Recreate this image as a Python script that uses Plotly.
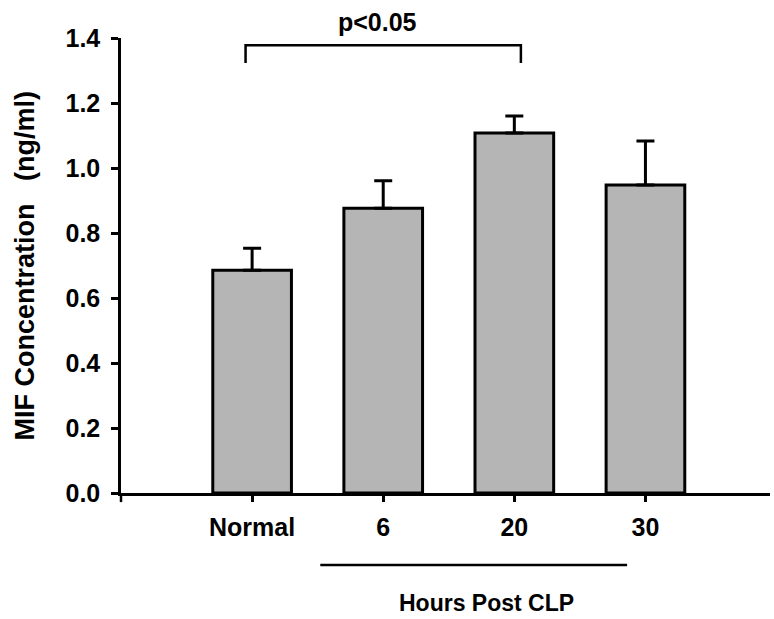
import plotly.graph_objects as go

categories = ["Normal", "6", "20", "30"]
means = [0.685, 0.876, 1.108, 0.948]
sem_plus = [0.068, 0.085, 0.052, 0.135]
y_ticks = [0.0, 0.2, 0.4, 0.6, 0.8, 1.0, 1.2, 1.4]
y_ticktext = ["0.0", "0.2", "0.4", "0.6", "0.8", "1.0", "1.2", "1.4"]
sig_pair = (0, 2)
sig_label = "p<0.05"
group_label = "Hours Post CLP"

xpos = list(range(len(categories)))
FONT = "Liberation Sans, Arial, sans-serif"
YMAX = 1.4

fig = go.Figure()
fig.add_trace(go.Bar(
    x=xpos, y=means, width=0.6,
    marker=dict(color="#b5b5b5", line=dict(color="black", width=3)),
    error_y=dict(type="data", array=sem_plus, arrayminus=[0]*len(means),
                 symmetric=False, color="black", thickness=3, width=9),
    showlegend=False,
))

# significance bracket
x0, x1 = sig_pair[0] - 0.05, sig_pair[1] + 0.05
fig.add_shape(type="path",
              path=f"M {x0},1.323 L {x0},1.378 L {x1},1.378 L {x1},1.323",
              xref="x", yref="y", line=dict(color="black", width=2.5))
fig.add_annotation(x=(x0 + x1) / 2 - 0.04, y=1.45 / YMAX, xref="x", yref="paper",
                   xanchor="center", yanchor="middle",
                   text="<b>" + sig_label + "</b>", showarrow=False,
                   font=dict(family=FONT, size=25, color="black"))

# group underline and label
fig.add_shape(type="line", x0=0.52, x1=2.86, y0=-0.158, y1=-0.158,
              xref="x", yref="paper", line=dict(color="black", width=2.5))
fig.add_annotation(x=1.79, y=-0.242, xref="x", yref="paper",
                   xanchor="center", yanchor="middle",
                   text="<b>" + group_label + "</b>", showarrow=False,
                   font=dict(family=FONT, size=23, color="black"))

# y axis title
fig.add_annotation(x=-0.148, y=0.5, xref="paper", yref="paper",
                   xanchor="center", yanchor="middle",
                   text="<b>MIF Concentration   (ng/ml)</b>", textangle=-90,
                   showarrow=False, font=dict(family=FONT, size=27, color="black"))

# small y-axis extension below origin
fig.add_shape(type="line", x0=0, x1=0, y0=0, y1=-0.02, xref="paper", yref="paper",
              line=dict(color="black", width=2.5))

fig.update_layout(
    width=774, height=619,
    margin=dict(l=121, r=4, t=38, b=126),
    plot_bgcolor="white", paper_bgcolor="white",
    font=dict(family=FONT, color="black"),
    bargap=0.4,
)
fig.update_xaxes(
    range=[-1.0, 3.95], tickvals=xpos,
    ticktext=["<b>" + c + "</b>" for c in categories],
    tickfont=dict(family=FONT, size=25, color="black"),
    showline=True, linecolor="black", linewidth=2.5,
    ticks="outside", ticklen=6, tickwidth=2.5, tickcolor="black",
    showgrid=False, zeroline=False, ticklabelstandoff=4,
)
fig.update_yaxes(
    range=[0, YMAX], tickvals=y_ticks,
    ticktext=["<b>" + t + "</b>" for t in y_ticktext],
    tickfont=dict(family=FONT, size=25, color="black"),
    showline=True, linecolor="black", linewidth=2.5,
    ticks="outside", ticklen=7, tickwidth=2.5, tickcolor="black",
    showgrid=False, zeroline=False, ticklabelstandoff=6,
)

fig.write_html("out.html")
